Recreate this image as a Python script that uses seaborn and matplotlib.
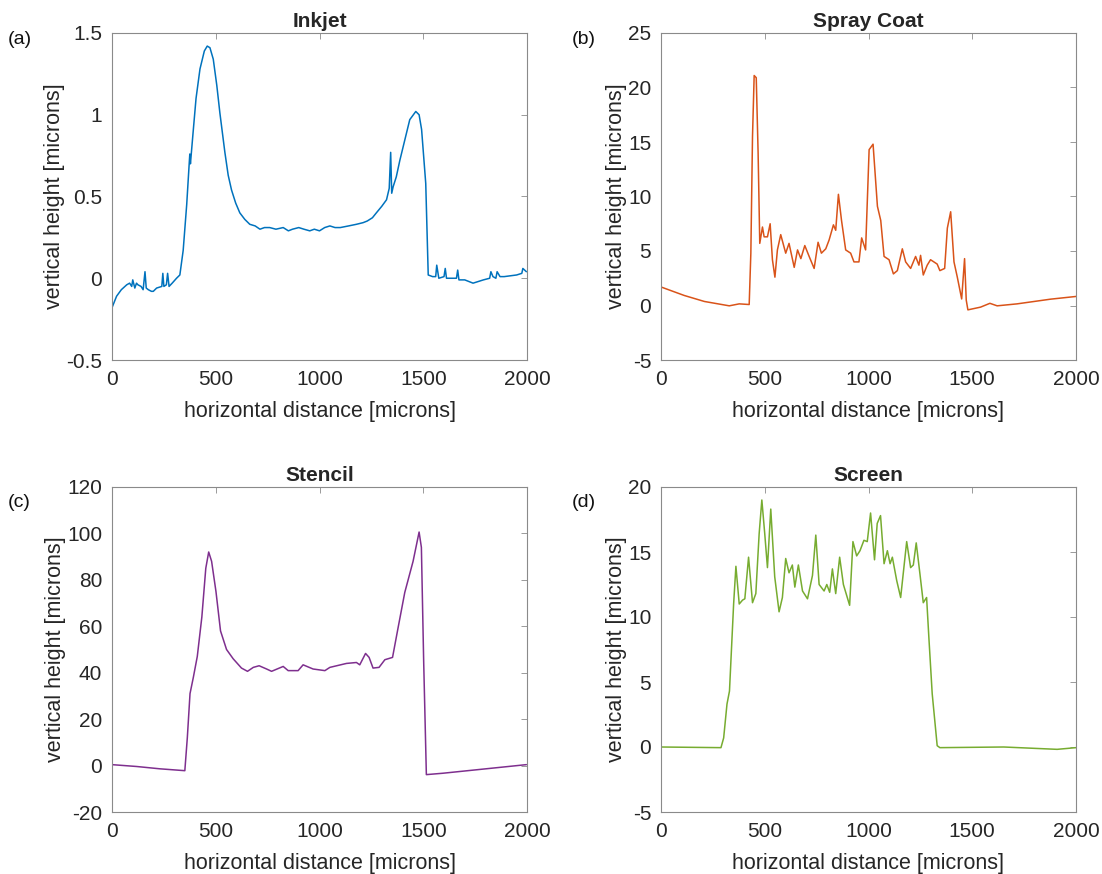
import numpy as np
import pandas as pd
import matplotlib.pyplot as plt
import seaborn as sns

sns.set_theme(style="white")
plt.rcParams['font.family'] = ['Liberation Sans', 'DejaVu Sans']
plt.rcParams['axes.unicode_minus'] = False
plt.rcParams['axes.linewidth'] = 0.8

inkjet_x = [0, 22, 45, 71, 85, 95, 100, 110, 118, 125, 140, 150, 159, 165, 175, 190, 199, 215,
            240, 245, 250, 262, 268, 275, 290, 311, 327, 343, 360, 372, 375, 378, 390, 405, 424,
            445, 459, 472, 488, 505, 520, 544, 560, 576, 596, 616, 640, 664, 690, 713, 735, 760,
            790, 825, 850, 870, 900, 925, 953, 975, 1000, 1025, 1050, 1075, 1100, 1140, 1178,
            1210, 1230, 1255, 1274, 1300, 1323, 1336, 1343, 1348, 1355, 1370, 1387, 1410,
            1435, 1464, 1480, 1492, 1512, 1524, 1545, 1560, 1565, 1575, 1600, 1606, 1612, 1640,
            1660, 1666, 1672, 1700, 1740, 1790, 1820, 1826, 1836, 1850, 1856, 1870, 1890,
            1950, 1975, 1980, 1997]
inkjet_y = [-0.18, -0.11, -0.07, -0.04, -0.03, -0.05, -0.01, -0.06, -0.03, -0.04, -0.05, -0.07,
            0.04, -0.06, -0.07, -0.08, -0.08, -0.06, -0.05, 0.03, -0.05, -0.04, 0.03, -0.05,
            -0.03, 0.0, 0.02, 0.17, 0.45, 0.70, 0.76, 0.70, 0.88, 1.10, 1.28, 1.39, 1.42, 1.41,
            1.34, 1.18, 1.01, 0.77, 0.63, 0.54, 0.46, 0.40, 0.36, 0.33, 0.32, 0.30, 0.31, 0.31,
            0.30, 0.31, 0.29, 0.30, 0.31, 0.30, 0.29, 0.30, 0.29, 0.31, 0.32, 0.31, 0.31, 0.32,
            0.33, 0.34, 0.35, 0.37, 0.40, 0.44, 0.48, 0.55, 0.77, 0.52, 0.56, 0.62, 0.72, 0.84,
            0.97, 1.02, 1.00, 0.91, 0.58, 0.02, 0.01, 0.01, 0.08, 0.0, 0.01, 0.06, 0.0, 0.0,
            0.0, 0.05, -0.01, -0.01, -0.03, -0.01, 0.0, 0.04, 0.01, 0.0, 0.04, 0.01, 0.01,
            0.02, 0.03, 0.06, 0.04]

spray_x = [0, 112, 209, 329, 377, 425, 433, 441, 449, 459, 468, 476, 489, 497, 513, 526, 537,
           549, 561, 577, 601, 617, 642, 658, 674, 693, 714, 738, 757, 773, 794, 810, 831, 842,
           855, 870, 890, 914, 930, 954, 967, 986, 1003, 1022, 1043, 1059, 1075, 1099, 1120,
           1139, 1163, 1179, 1203, 1227, 1243, 1251, 1264, 1283, 1299, 1331, 1344, 1367, 1380,
           1396, 1412, 1428, 1449, 1463, 1471, 1479, 1540, 1585, 1620, 1716, 1877, 2000]
spray_y = [1.7, 0.92, 0.37, -0.03, 0.15, 0.09, 4.8, 15.5, 21.1, 20.9, 14.0, 5.7, 7.2, 6.3, 6.3,
           7.5, 4.2, 2.6, 5.1, 6.5, 4.8, 5.7, 3.5, 5.1, 4.3, 5.5, 4.5, 3.4, 5.8, 4.8, 5.2, 6.0,
           7.4, 6.9, 10.2, 7.8, 5.1, 4.8, 4.0, 4.0, 6.2, 5.1, 14.3, 14.8, 9.1, 7.8, 4.5, 4.2,
           2.9, 3.2, 5.2, 4.0, 3.4, 4.5, 3.7, 4.6, 2.8, 3.7, 4.2, 3.8, 3.2, 3.4, 7.1, 8.6, 4.0,
           2.6, 0.6, 4.3, 0.5, -0.4, -0.15, 0.2, -0.03, 0.15, 0.58, 0.83]

stencil_x = [0, 119, 231, 351, 363, 376, 392, 411, 433, 452, 466, 480, 501, 523, 552, 584, 624,
             653, 681, 709, 745, 769, 825, 849, 897, 921, 969, 1026, 1050, 1130, 1178, 1194,
             1222, 1239, 1258, 1287, 1315, 1352, 1379, 1411, 1451, 1480, 1491, 1502, 1515,
             1595, 1997]
stencil_y = [0.4, -0.4, -1.4, -2.2, 12, 31, 38, 47, 64, 85, 92, 88, 75, 58, 50, 46, 42, 40.6,
             42.3, 43, 41.6, 40.6, 42.7, 40.9, 40.9, 43.4, 41.6, 40.9, 42.3, 44, 44.4, 43.4,
             48.3, 46.6, 42, 42.3, 45.6, 46.6, 59.5, 74.6, 88, 100.6, 94, 45, -3.9, -3.3, 0.4]

screen_x = [0, 289, 302, 318, 330, 350, 361, 377, 393, 404, 422, 441, 457, 473, 486, 500, 513,
            529, 548, 569, 585, 601, 617, 633, 645, 662, 682, 706, 730, 746, 762, 786, 799, 813,
            826, 842, 861, 879, 909, 925, 943, 959, 978, 994, 1010, 1029, 1042, 1058, 1075,
            1091, 1104, 1115, 1136, 1155, 1184, 1203, 1216, 1230, 1248, 1264, 1280, 1291, 1307,
            1331, 1344, 1652, 1909, 2000]
screen_y = [0, -0.05, 0.7, 3.3, 4.3, 11, 13.9, 11, 11.3, 11.4, 14.6, 11.1, 11.8, 16.4, 19.0,
            16.4, 13.8, 18.3, 13.1, 10.4, 11.5, 14.5, 13.4, 14, 12.3, 14, 12, 11.4, 13.2, 16.3,
            12.5, 12, 12.5, 11.9, 13.7, 11.8, 14.6, 12.5, 10.9, 15.8, 14.7, 15.1, 15.9, 15.8,
            18, 14.4, 17.2, 17.8, 14.1, 15.1, 14.1, 14.6, 12.8, 11.5, 15.8, 13.8, 14, 15.7,
            13.3, 11.1, 11.5, 8.4, 4.1, 0.1, -0.05, 0, -0.18, -0.05]

panels = [
    ('(a)', 'Inkjet', inkjet_x, inkjet_y, '#0072BD', (-0.5, 1.5), [-0.5, 0, 0.5, 1, 1.5],
     ['-0.5', '0', '0.5', '1', '1.5']),
    ('(b)', 'Spray Coat', spray_x, spray_y, '#D95319', (-5, 25), [-5, 0, 5, 10, 15, 20, 25], None),
    ('(c)', 'Stencil', stencil_x, stencil_y, '#7E2F8E', (-20, 120), [-20, 0, 20, 40, 60, 80, 100, 120], None),
    ('(d)', 'Screen', screen_x, screen_y, '#77AC30', (-5, 20), [-5, 0, 5, 10, 15, 20], None),
]

W, H = 1102, 874
fig = plt.figure(figsize=(W / 100, H / 100), dpi=100)
# axes boxes in pixels: left, top, right, bottom
boxes = [(112, 33, 527, 360), (661, 33, 1076, 360), (112, 487, 527, 812), (661, 487, 1076, 812)]
label_pos = [(8, 40), (572, 40), (8, 502), (572, 502)]

for (tag, title, xs, ys, color, ylim, yticks, ylabs), box, lp in zip(panels, boxes, label_pos):
    l, t, r, b = box
    ax = fig.add_axes([l / W, 1 - b / H, (r - l) / W, (b - t) / H])
    df = pd.DataFrame({'x': xs, 'y': ys})
    sns.lineplot(data=df, x='x', y='y', ax=ax, color=color, linewidth=1.1, sort=False)
    ax.set_xlim(0, 2000)
    ax.set_ylim(*ylim)
    ax.set_xticks([0, 500, 1000, 1500, 2000])
    ax.set_yticks(yticks)
    if ylabs is not None:
        ax.set_yticklabels(ylabs)
    ax.tick_params(direction='in', length=4, width=0.6, top=True, right=True,
                   labelsize=15, colors='#8a8a8a', labelcolor='#262626', pad=7)
    ax.set_xlabel('horizontal distance [microns]', fontsize=15.5, color='#262626', labelpad=9)
    ax.set_ylabel('vertical height [microns]', fontsize=15.5, color='#262626', labelpad=1)
    ax.set_title(title, fontsize=15, fontweight='bold', pad=4)
    for s in ax.spines.values():
        s.set_color('#8a8a8a')
    fig.text(lp[0] / W, 1 - lp[1] / H, tag, fontsize=14, ha='left', va='center', color='#111111')

fig.savefig('out.png', dpi=100, facecolor='white')
